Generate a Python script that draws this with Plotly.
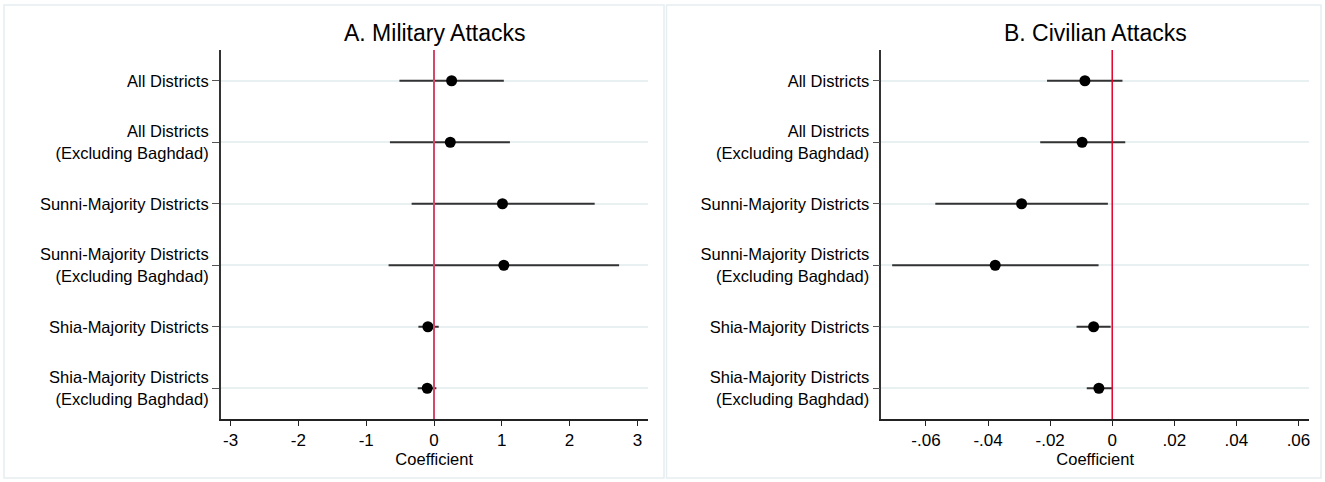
import plotly.graph_objects as go

# District samples, listed top to bottom
labels = [
    "All Districts",
    "All Districts<br>(Excluding Baghdad)",
    "Sunni-Majority Districts",
    "Sunni-Majority Districts<br>(Excluding Baghdad)",
    "Shia-Majority Districts",
    "Shia-Majority Districts<br>(Excluding Baghdad)",
]
rows = [1, 2, 3, 4, 5, 6]

# Panel A: military attacks (point estimate, 95% CI)
mil_coef = [0.26, 0.24, 1.01, 1.03, -0.09, -0.10]
mil_lo = [-0.51, -0.65, -0.33, -0.67, -0.23, -0.24]
mil_hi = [1.03, 1.12, 2.37, 2.73, 0.07, 0.035]

# Panel B: civilian attacks (point estimate, 95% CI)
civ_coef = [-0.0088, -0.0097, -0.0292, -0.0377, -0.0060, -0.0043]
civ_lo = [-0.0210, -0.0232, -0.0570, -0.0709, -0.0115, -0.0082]
civ_hi = [0.0033, 0.0042, -0.0014, -0.0044, -0.0005, -0.0001]

mil_ticks = [-3, -2, -1, 0, 1, 2, 3]
mil_ticktext = ["-3", "-2", "-1", "0", "1", "2", "3"]
civ_ticks = [-0.06, -0.04, -0.02, 0, 0.02, 0.04, 0.06]
civ_ticktext = ["-.06", "-.04", "-.02", "0", ".02", ".04", ".06"]

FONT = "Liberation Sans, Arial, Helvetica, sans-serif"
W, H = 1325, 482


def px_x(p):
    return p / W


def px_y(p):
    return 1 - p / H


fig = go.Figure()


def add_panel(coef, lo, hi, xa, ya):
    fig.add_trace(go.Scatter(
        x=coef, y=rows, mode="markers",
        xaxis=xa, yaxis=ya,
        marker=dict(color="black", size=11),
        error_x=dict(
            type="data", symmetric=False,
            array=[h - c for h, c in zip(hi, coef)],
            arrayminus=[c - l for c, l in zip(coef, lo)],
            color="#333333", thickness=2, width=0,
        ),
        showlegend=False, hoverinfo="skip",
    ))


add_panel(mil_coef, mil_lo, mil_hi, "x", "y")
add_panel(civ_coef, civ_lo, civ_hi, "x2", "y2")

ydom = [px_y(419), px_y(50)]

common_x = dict(
    showgrid=False, zeroline=False, showline=True, linecolor="#222222",
    linewidth=1.5, ticks="outside", ticklen=5, tickwidth=1.2,
    tickcolor="#222222", tickfont=dict(family=FONT, size=17, color="black"),
    title=dict(text="Coefficient", font=dict(family=FONT, size=16.5, color="black"),
               standoff=0),
)
common_y = dict(
    tickvals=rows, ticktext=labels, range=[6.5, 0.5],
    showgrid=True, gridcolor="#e9f0f1", gridwidth=1.5, zeroline=False,
    showline=True, linecolor="#333333", linewidth=1.5,
    ticks="outside", ticklen=7, tickwidth=1.2, tickcolor="#555555",
    tickfont=dict(family=FONT, size=16.5, color="black"),
)

fig.update_layout(
    width=W, height=H,
    margin=dict(l=0, r=0, t=0, b=0),
    paper_bgcolor="white", plot_bgcolor="white",
    xaxis=dict(domain=[px_x(220.7), px_x(647.7)], anchor="y",
               range=[-3.146, 3.152], tickvals=mil_ticks,
               ticktext=mil_ticktext, **common_x),
    yaxis=dict(domain=ydom, anchor="x", **common_y),
    xaxis2=dict(domain=[px_x(881.3), px_x(1309)], anchor="y2",
                range=[-0.0744, 0.0634], tickvals=civ_ticks,
                ticktext=civ_ticktext, **common_x),
    yaxis2=dict(domain=ydom, anchor="x2", **common_y),
)

# zero reference lines
fig.add_shape(type="line", xref="x", yref="y domain", x0=0, x1=0, y0=0, y1=1,
              line=dict(color="#d4486c", width=2), layer="above")
fig.add_shape(type="line", xref="x2", yref="y2 domain", x0=0, x1=0, y0=0, y1=1,
              line=dict(color="#e0002b", width=1.5), layer="above")

# panel frames
for x0, x1 in [(4, 664), (666.5, 1321)]:
    fig.add_shape(type="rect", xref="paper", yref="paper",
                  x0=px_x(x0), x1=px_x(x1), y0=px_y(478), y1=px_y(5),
                  line=dict(color="#e6eef1", width=1.5), fillcolor="rgba(0,0,0,0)")

# panel titles
for text, xc in [("A. Military Attacks", 434.2), ("B. Civilian Attacks", 1095.2)]:
    fig.add_annotation(text=text, xref="paper", yref="paper",
                       x=px_x(xc), y=px_y(33), xanchor="center", yanchor="middle",
                       showarrow=False,
                       font=dict(family=FONT, size=23, color="black"))

fig.write_html("out.html")
